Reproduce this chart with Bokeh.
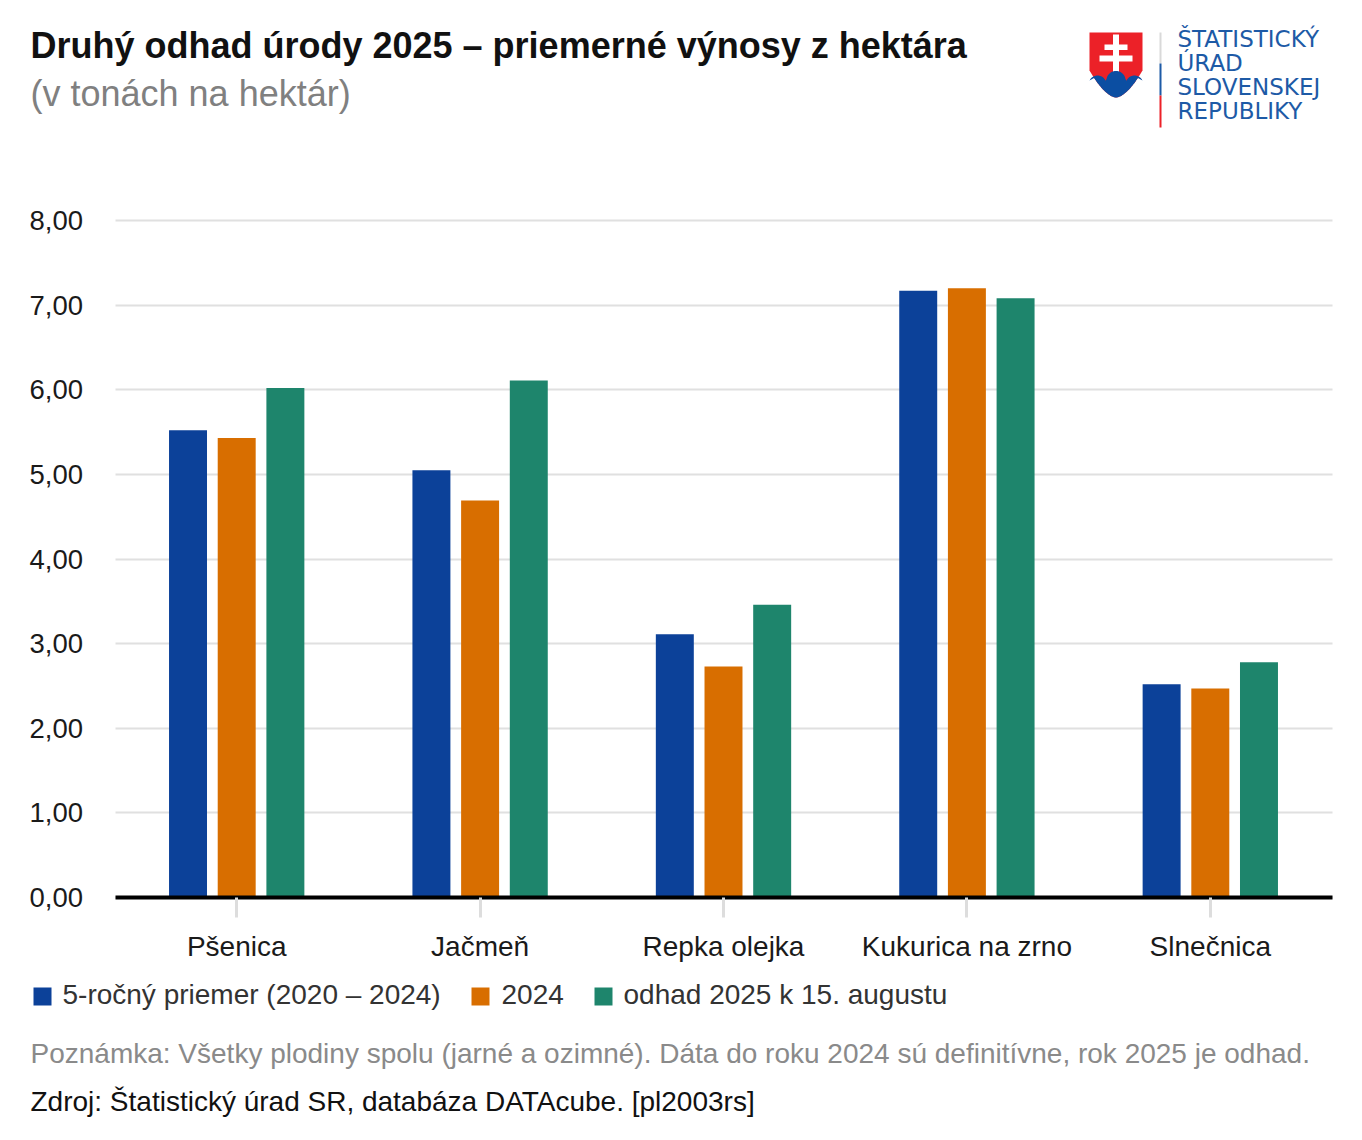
import numpy as np
from bokeh.plotting import figure
from bokeh.models import ColumnDataSource, Range1d, FixedTicker, Label
from bokeh.transform import dodge
from bokeh.embed import file_html
from bokeh.resources import INLINE

# ---------------- data ----------------
categories = ["Pšenica", "Jačmeň", "Repka olejka", "Kukurica na zrno", "Slnečnica"]
avg_2020_2024 = [5.52, 5.05, 3.11, 7.17, 2.52]
yield_2024 = [5.43, 4.69, 2.73, 7.20, 2.47]
estimate_2025 = [6.02, 6.11, 3.46, 7.08, 2.78]
series_names = ["5-ročný priemer (2020 – 2024)", "2024", "odhad 2025 k 15. augustu"]
y_ticks = [0, 1, 2, 3, 4, 5, 6, 7, 8]
y_tick_labels = ["0,00", "1,00", "2,00", "3,00", "4,00", "5,00", "6,00", "7,00", "8,00"]

title_text = "Druhý odhad úrody 2025 – priemerné výnosy z hektára"
subtitle_text = "(v tonách na hektár)"
note_text = "Poznámka: Všetky plodiny spolu (jarné a ozimné). Dáta do roku 2024 sú definitívne, rok 2025 je odhad."
source_text = "Zdroj: Štatistický úrad SR, databáza DATAcube. [pl2003rs]"
logo_lines = ["ŠTATISTICKÝ", "ÚRAD", "SLOVENSKEJ", "REPUBLIKY"]

colors = ["#0c4199", "#d86e00", "#1e856c"]
FONT = "Liberation Sans"

# ---------------- geometry (screen px) ----------------
W, H = 1362, 1140
PLOT_L, PLOT_R, Y0_PX, Y8_PX = 115.0, 1332.0, 897.0, 220.0
n = len(categories)
PPC = (PLOT_R - PLOT_L) / n          # px per category
PPU = (Y0_PX - Y8_PX) / 8.0          # px per unit
c0 = PLOT_L + PPC / 2 - 0.5          # px centre of first category

p = figure(width=W, height=H,
           x_range=Range1d(-c0 / PPC, (W - c0) / PPC),
           y_range=Range1d(-(H - Y0_PX) / PPU, Y0_PX / PPU),
           min_border=0, min_border_left=0, min_border_right=0,
           min_border_top=0, min_border_bottom=0,
           output_backend="svg", toolbar_location=None, background_fill_color="white",
           border_fill_color="white", outline_line_color=None)
p.extra_x_ranges = {"px": Range1d(0, W)}
p.extra_y_ranges = {"px": Range1d(H, 0)}

idx = list(range(n))
src = ColumnDataSource(dict(idx=idx, cat=categories, a=avg_2020_2024, b=yield_2024, c=estimate_2025))

# grid lines limited to the plotting area
p.xgrid.visible = False
try:
    p.ygrid.cross_bounds = (-0.5, n - 0.5)
    p.ygrid.grid_line_color = "#e0e0e0"
    p.ygrid.grid_line_width = 2
except Exception:
    p.ygrid.visible = False
    p.segment(x0=-0.5, x1=n - 0.5, y0=y_ticks, y1=y_ticks, line_color="#e0e0e0", line_width=2)

for col, off, colr in zip(["a", "b", "c"], [-0.2, 0.0, 0.2], colors):
    p.vbar(x=dodge("idx", off), top=col, width=0.156, bottom=0,
           source=src, fill_color=colr, line_color=None)

# y axis
p.yaxis.fixed_location = -0.5
p.yaxis.bounds = (0, 8)
p.yaxis.ticker = FixedTicker(ticks=y_ticks)
p.yaxis.major_label_overrides = {t: l for t, l in zip(y_ticks, y_tick_labels)}
p.yaxis.axis_line_color = None
p.yaxis.major_tick_line_color = None
p.yaxis.minor_tick_line_color = None
p.yaxis.major_tick_out = 0
p.yaxis.major_label_standoff = 32
p.yaxis.major_label_text_font = FONT
p.yaxis.major_label_text_font_size = "27.5px"
p.yaxis.major_label_text_color = "#1a1a1a"

# x axis (categories)
p.xaxis.fixed_location = 0
p.xaxis.bounds = (-0.5, n - 0.5)
p.xaxis.ticker = FixedTicker(ticks=idx)
p.xaxis.major_label_overrides = {i: c for i, c in zip(idx, categories)}
p.xaxis.axis_line_color = "black"
p.xaxis.axis_line_width = 4
p.xaxis.major_tick_line_color = "#dddddd"
p.xaxis.major_tick_line_width = 3
p.xaxis.minor_tick_line_color = None
p.xaxis.major_tick_in = 0
p.xaxis.major_tick_out = 20
p.xaxis.major_label_standoff = 13
p.xaxis.major_label_text_font = FONT
p.xaxis.major_label_text_font_size = "28px"
p.xaxis.major_label_text_color = "#1a1a1a"


def lab(x, y, text, size, color, style="normal", font=FONT):
    px = float(size.replace("px", ""))
    p.add_layout(Label(x=x, y=y - 0.35 * px, text=text, x_range_name="px", y_range_name="px",
                       text_font=font, text_font_size=size, text_color=color,
                       text_font_style=style, text_baseline="alphabetic", text_align="left"))


# titles
lab(30, 58, title_text, "36px", "#111111", "bold")
lab(30, 106, subtitle_text, "36px", "#808080")

# legend (manual, below the axis)
sq_x = [42, 480, 603]
txt_x = [62, 501, 623]
p.rect(x=sq_x, y=[996] * 3, width=18, height=18, fill_color=colors, line_color=None,
       x_range_name="px", y_range_name="px")
for tx, name in zip(txt_x, series_names):
    lab(tx, 1004, name, "28px", "#333333")

# notes
lab(30, 1063, note_text, "28px", "#8a8a8a")
lab(30, 1111, source_text, "28px", "#111111")

# ---------------- logo ----------------
for i, t in enumerate(logo_lines):
    lab(1177, 47 + 24 * i, t, "23px", "#1d5aa6", font="DejaVu Sans")


def patch(xs, ys, color):
    p.patch([float(v) for v in xs], [float(v) for v in ys], fill_color=color, line_color=None,
            x_range_name="px", y_range_name="px")


s = np.linspace(0, 1, 30)
cx, left, right, top, side_y, bot = 1115.5, 1089.0, 1142.0, 32.0, 70.0, 97.0
rx = right - (right - cx) * s
ry = side_y + (bot - side_y) * (1 - (1 - s) ** 1.7)
patch(np.concatenate([[left, right], rx, 2 * cx - rx[::-1]]),
      np.concatenate([[top, top], ry, ry[::-1]]), "#ec2128")
for (x0, x1, y0, y1) in [(1112.5, 1118.5, 34, 76), (1104, 1127, 44, 49.5), (1099, 1132, 55, 61)]:
    patch([x0, x1, x1, x0], [y0, y0, y1, y1], "white")

hills = [(1097.0, 84.0, 9.0), (1115.5, 80.0, 9.6), (1134.0, 84.0, 9.0)]


def hill_y(x):
    vals = [hyc - np.sqrt(max(r * r - (x - hxc) ** 2, 0)) if abs(x - hxc) <= r else 1e9
            for hxc, hyc, r in hills]
    return min(vals)


hx = np.linspace(left, right, 60)
hy = [hill_y(x) for x in hx]
keep = [(x, y) for x, y in zip(rx, ry) if y > hill_y(x)]
bx_r = [k[0] for k in keep]
by_r = [k[1] for k in keep]
patch(list(hx) + bx_r + [2 * cx - x for x in bx_r[::-1]], hy + by_r + by_r[::-1], "#0b4ea2")
for (y0, y1, c) in [(32, 63, "#d9d9d9"), (63, 95, "#1d5aa6"), (95, 127, "#ec2128")]:
    patch([1159, 1161, 1161, 1159], [y0, y0, y1, y1], c)

open("out.html", "w").write(file_html(p, INLINE))
